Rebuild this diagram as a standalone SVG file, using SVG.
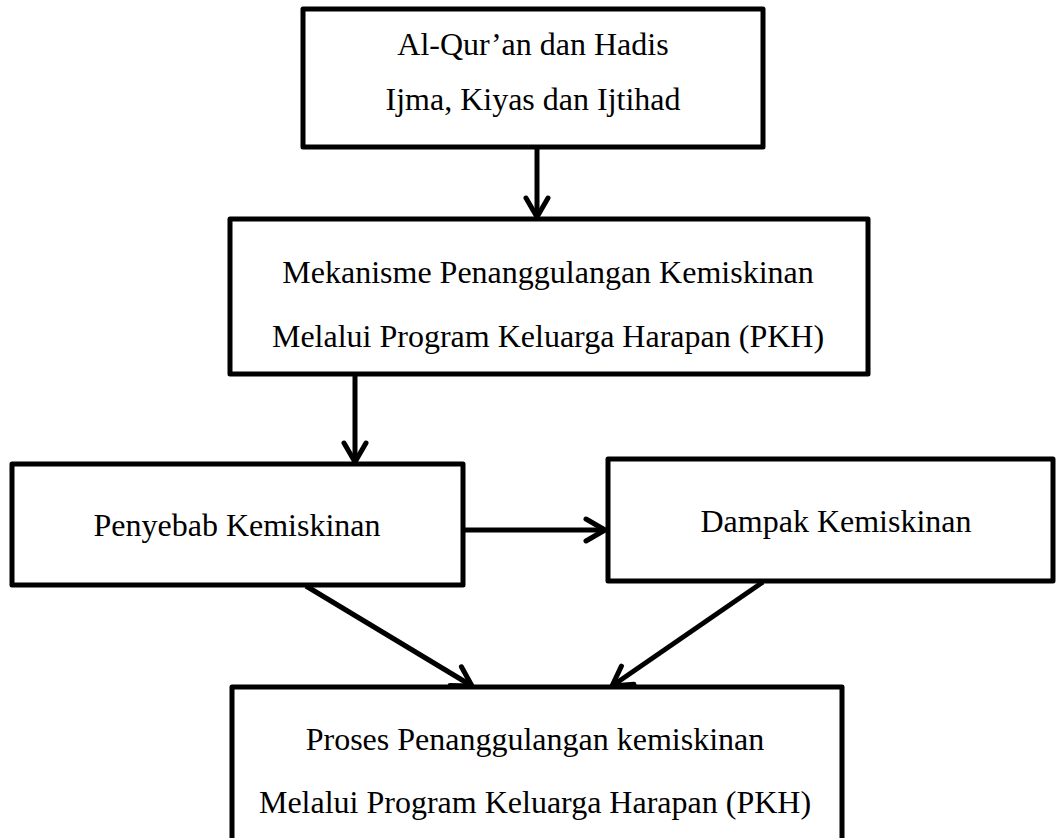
<svg xmlns="http://www.w3.org/2000/svg" width="1056" height="838" viewBox="0 0 1056 838">
  <style>
    .box { fill: #ffffff; stroke: #000000; stroke-width: 5; stroke-linejoin: round; }
    .lbl { font-family: "Liberation Serif", "Times New Roman", serif; font-size: 32px; fill: #000000; text-anchor: middle; }
    .conn { stroke: #000000; stroke-width: 5; fill: none; marker-end: url(#chev); }
  </style>
  <defs>
    <marker id="chev" markerUnits="userSpaceOnUse" markerWidth="30" markerHeight="30" viewBox="-24 -15 28 30" refX="0" refY="0" orient="auto" overflow="visible">
      <path d="M -19,-11 L 0,0 L -19,11" fill="none" stroke="#000000" stroke-width="5" stroke-linecap="round" stroke-linejoin="round"/>
    </marker>
  </defs>
  <rect width="1056" height="838" fill="#ffffff"/>

  <g id="node-sumber">
    <rect class="box" x="303" y="9" width="460" height="138"/>
    <text class="lbl" x="533" y="55">Al-Qur’an dan Hadis</text>
    <text class="lbl" x="533" y="110">Ijma, Kiyas dan Ijtihad</text>
  </g>

  <g id="node-mekanisme">
    <rect class="box" x="230" y="219" width="638" height="155"/>
    <text class="lbl" x="548" y="283">Mekanisme Penanggulangan Kemiskinan</text>
    <text class="lbl" x="548" y="347">Melalui Program Keluarga Harapan (PKH)</text>
  </g>

  <g id="node-penyebab">
    <rect class="box" x="12" y="464" width="451" height="121"/>
    <text class="lbl" x="237" y="536">Penyebab Kemiskinan</text>
  </g>

  <g id="node-dampak">
    <rect class="box" x="608" y="459" width="445" height="122"/>
    <text class="lbl" x="836" y="532">Dampak Kemiskinan</text>
  </g>

  <g id="node-proses">
    <rect class="box" x="232" y="687" width="610" height="170"/>
    <text class="lbl" x="535" y="750">Proses Penanggulangan kemiskinan</text>
    <text class="lbl" x="535" y="813">Melalui Program Keluarga Harapan (PKH)</text>
  </g>

  <g id="connectors">
    <line class="conn" x1="537" y1="147" x2="537" y2="217"/>
    <line class="conn" x1="355" y1="374" x2="355" y2="462"/>
    <line class="conn" x1="463" y1="530" x2="605" y2="530"/>
    <line class="conn" x1="306" y1="586" x2="472" y2="686"/>
    <line class="conn" x1="763" y1="582" x2="612" y2="686"/>
  </g>
</svg>
